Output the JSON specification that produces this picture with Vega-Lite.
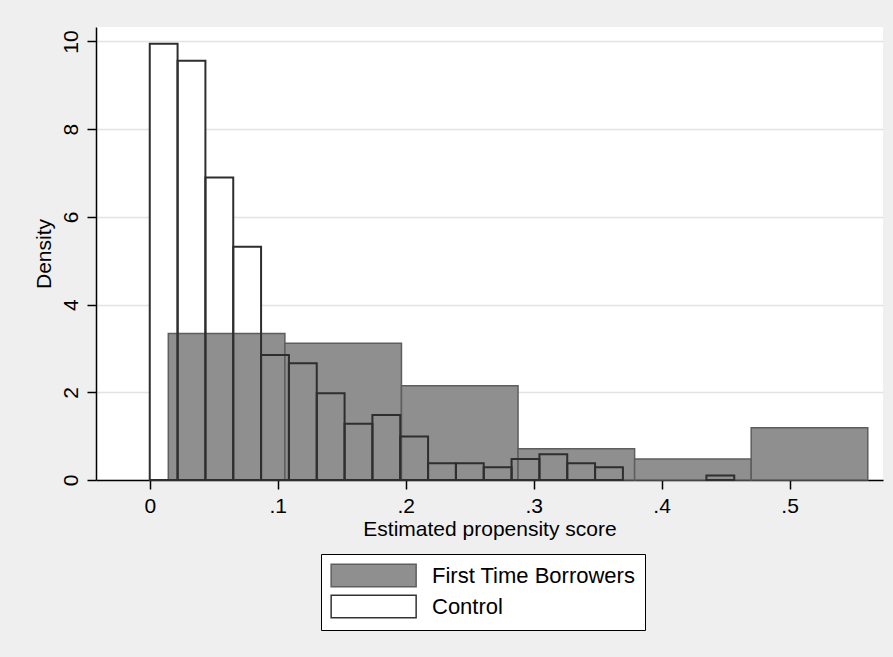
{
  "$schema": "https://vega.github.io/schema/vega-lite/v6.json",
  "width": 787,
  "height": 453,
  "autosize": {"type": "none"},
  "padding": {"left": 96, "top": 27, "right": 10, "bottom": 177},
  "background": "#efefef",
  "config": {
    "view": {"fill": "white", "stroke": null},
    "font": "Liberation Sans",
    "axis": {
      "domainColor": "black", "domainWidth": 1.5,
      "tickColor": "black", "tickWidth": 1.5, "tickSize": 9,
      "labelColor": "black", "titleColor": "black",
      "labelFont": "Liberation Sans", "titleFont": "Liberation Sans",
      "labelFontSize": 21, "titleFontSize": 21, "titleFontWeight": "normal",
      "gridColor": "#e3e3e3", "gridWidth": 1.5
    }
  },
  "data": {
    "values": [
      {"group": "Control", "x0": 0.0, "x1": 0.02175, "density": 9.95},
      {"group": "Control", "x0": 0.02175, "x1": 0.0435, "density": 9.56},
      {"group": "Control", "x0": 0.0435, "x1": 0.06525, "density": 6.9},
      {"group": "Control", "x0": 0.06525, "x1": 0.087, "density": 5.32},
      {"group": "Control", "x0": 0.087, "x1": 0.10875, "density": 2.85},
      {"group": "Control", "x0": 0.10875, "x1": 0.1305, "density": 2.66},
      {"group": "Control", "x0": 0.1305, "x1": 0.15225, "density": 1.98},
      {"group": "Control", "x0": 0.15225, "x1": 0.174, "density": 1.28},
      {"group": "Control", "x0": 0.174, "x1": 0.19575, "density": 1.48},
      {"group": "Control", "x0": 0.19575, "x1": 0.2175, "density": 0.99},
      {"group": "Control", "x0": 0.2175, "x1": 0.23925, "density": 0.38},
      {"group": "Control", "x0": 0.23925, "x1": 0.261, "density": 0.38},
      {"group": "Control", "x0": 0.261, "x1": 0.28275, "density": 0.29},
      {"group": "Control", "x0": 0.28275, "x1": 0.3045, "density": 0.48},
      {"group": "Control", "x0": 0.3045, "x1": 0.32625, "density": 0.59},
      {"group": "Control", "x0": 0.32625, "x1": 0.348, "density": 0.38},
      {"group": "Control", "x0": 0.348, "x1": 0.36975, "density": 0.29},
      {"group": "Control", "x0": 0.435, "x1": 0.45675, "density": 0.1},
      {"group": "First Time Borrowers", "x0": 0.0145, "x1": 0.1056, "density": 3.34},
      {"group": "First Time Borrowers", "x0": 0.1056, "x1": 0.1967, "density": 3.12},
      {"group": "First Time Borrowers", "x0": 0.1967, "x1": 0.2878, "density": 2.15},
      {"group": "First Time Borrowers", "x0": 0.2878, "x1": 0.3789, "density": 0.71},
      {"group": "First Time Borrowers", "x0": 0.3789, "x1": 0.47, "density": 0.48},
      {"group": "First Time Borrowers", "x0": 0.47, "x1": 0.5611, "density": 1.19}
    ]
  },
  "encoding": {
    "x": {
      "field": "x0", "type": "quantitative",
      "scale": {"domain": [-0.042, 0.573], "nice": false, "zero": false},
      "axis": {
        "title": "Estimated propensity score",
        "values": [0, 0.1, 0.2, 0.3, 0.4, 0.5],
        "labelExpr": "datum.value == 0 ? '0' : replace(format(datum.value, '.1f'), '0.', '.')",
        "grid": false, "labelPadding": 6, "titlePadding": 2
      }
    },
    "x2": {"field": "x1"},
    "y": {
      "field": "density", "type": "quantitative",
      "scale": {"domain": [0, 10.33], "nice": false},
      "axis": {
        "title": "Density",
        "values": [0, 2, 4, 6, 8, 10],
        "labelAngle": 270, "labelAlign": "center", "labelBaseline": "alphabetic",
        "labelPadding": 10, "titlePadding": 6, "grid": true
      }
    },
    "y2": {"datum": 0}
  },
  "layer": [
    {
      "transform": [{"filter": "datum.group == 'Control'"}],
      "mark": {"type": "bar", "strokeWidth": 0},
      "encoding": {
        "fill": {
          "field": "group", "type": "nominal",
          "scale": {"domain": ["First Time Borrowers", "Control"], "range": ["#8f8f8f", "#ffffff"]},
          "legend": {
            "title": null, "orient": "none", "legendX": 225, "legendY": 527,
            "direction": "vertical",
            "fillColor": "white", "strokeColor": "black", "padding": 9,
            "symbolType": "M-1,-1H6.49V1H-1Z", "symbolSize": 515,
            "symbolStrokeWidth": 1.5, "symbolOpacity": 1,
            "labelFontSize": 22, "labelColor": "black", "labelFont": "Liberation Sans",
            "labelOffset": 77, "labelLimit": 400, "rowPadding": 2,
            "labelExpr": "datum.label + '\u00a0\u00a0'"
          }
        },
        "stroke": {
          "field": "group", "type": "nominal",
          "scale": {"domain": ["First Time Borrowers", "Control"], "range": ["#5e5e5e", "#333333"]}
        }
      }
    },
    {
      "transform": [{"filter": "datum.group == 'First Time Borrowers'"}],
      "mark": {"type": "bar", "strokeWidth": 1.5},
      "encoding": {
        "fill": {"field": "group", "type": "nominal"},
        "stroke": {"field": "group", "type": "nominal"}
      }
    },
    {
      "transform": [{"filter": "datum.group == 'Control'"}],
      "mark": {"type": "bar", "fill": null, "fillOpacity": 0, "stroke": "#2e2e2e", "strokeWidth": 2}
    }
  ]
}
